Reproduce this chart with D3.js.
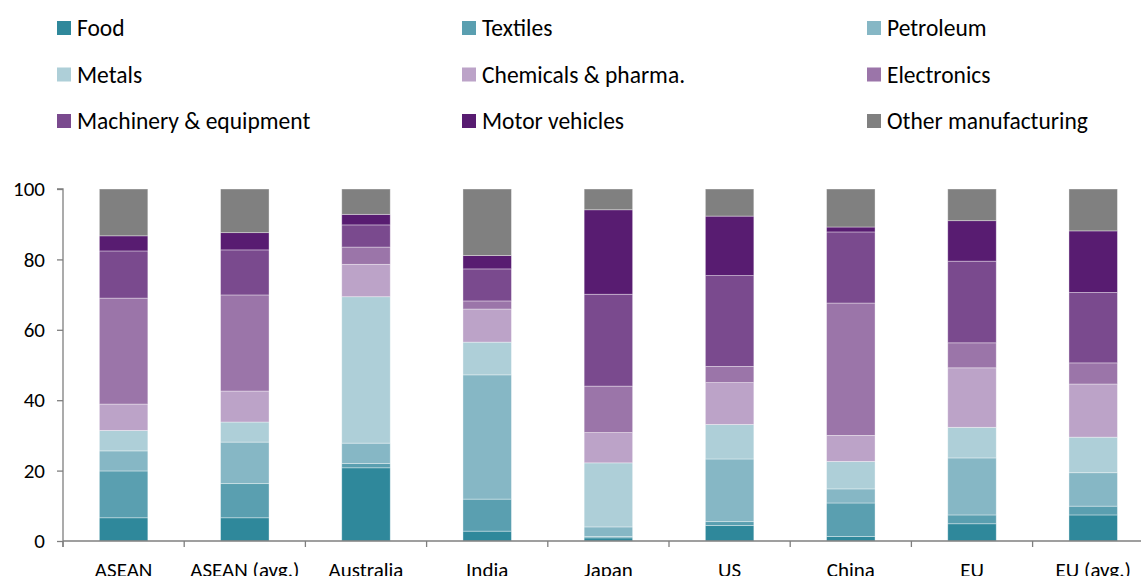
<!DOCTYPE html>
<html>
<head>
<meta charset="utf-8">
<script src="https://cdn.jsdelivr.net/npm/d3@7"></script>
<style>
  html, body { margin: 0; padding: 0; background: #fff; }
  svg { display: block; }
</style>
</head>
<body>
<svg id="chart" width="1141" height="576"></svg>
<script>
// ---- Data ----
const categories = ["ASEAN", "ASEAN (avg.)", "Australia", "India", "Japan", "US", "China", "EU", "EU (avg.)"];
const seriesNames = ["Food", "Textiles", "Petroleum", "Metals", "Chemicals & pharma.", "Electronics", "Machinery & equipment", "Motor vehicles", "Other manufacturing"];
const food        = [6.6, 6.6, 20.8, 2.8, 0.9, 4.4, 1.3, 4.9, 7.4];
const textiles    = [13.3, 9.7, 1.2, 9.1, 0.4, 1.1, 9.5, 2.5, 2.5];
const petroleum   = [5.7, 11.8, 5.8, 35.3, 2.7, 17.8, 4.0, 16.2, 9.5];
const metals      = [5.8, 5.7, 41.6, 9.3, 18.2, 9.8, 7.8, 8.7, 10.1];
const chemicals   = [7.5, 8.8, 9.2, 9.4, 8.6, 11.9, 7.4, 16.9, 15.1];
const electronics = [30.1, 27.3, 4.9, 2.3, 13.2, 4.6, 37.6, 7.1, 6.0];
const machinery   = [13.4, 12.8, 6.3, 9.1, 26.1, 25.8, 20.2, 23.2, 20.0];
const motor       = [4.3, 4.9, 3.0, 3.8, 24.0, 16.9, 1.4, 11.5, 17.5];
const other       = [13.3, 12.4, 7.2, 18.9, 5.9, 7.7, 10.8, 9.0, 11.9];
const yTicks = [0, 20, 40, 60, 80, 100];

const seriesValues = [food, textiles, petroleum, metals, chemicals, electronics, machinery, motor, other];
const colors = ["#2F889B", "#5A9FB0", "#86B7C5", "#AECFD8", "#BCA3C8", "#9B75A9", "#7A4A8E", "#581C71", "#808080"];

// ---- Layout ----
const svg = d3.select("#chart");
const fontFam = "Carlito, Lato, 'Open Sans', sans-serif";
const axisColor = "#7f7f7f";

const x0 = 63, step = 121.2;
const x = d3.scaleBand()
  .domain(categories)
  .range([x0, x0 + step * categories.length])
  .paddingInner(0.6)
  .paddingOuter(0.3);
const y = d3.scaleLinear().domain([0, 100]).range([541, 189]);

// table for stack
const table = categories.map((c, i) => {
  const row = { cat: c };
  seriesNames.forEach((s, j) => row[s] = seriesValues[j][i]);
  return row;
});
const stacked = d3.stack().keys(seriesNames)(table);

const g = svg.append("g");
g.selectAll("g.series")
  .data(stacked)
  .join("g")
  .attr("class", "series")
  .attr("fill", (d, i) => colors[i])
  .selectAll("rect")
  .data(d => d)
  .join("rect")
  .attr("x", d => x(d.data.cat))
  .attr("width", x.bandwidth())
  .attr("y", d => y(d[1]))
  .attr("height", d => y(d[0]) - y(d[1]))
  .attr("stroke", "rgba(255,255,255,0.45)")
  .attr("stroke-width", 0.8);

// ---- Y axis ----
const yAxis = d3.axisLeft(y).tickValues(yTicks).tickSize(6).tickPadding(12);
const yg = svg.append("g").attr("transform", `translate(${x0},0)`).call(yAxis);
yg.select(".domain").attr("d", `M-6,${y(100)}H0V${y(0) + 6}`);
yg.selectAll("line").attr("stroke", axisColor).attr("stroke-width", 1.3);
yg.select(".domain").attr("stroke", axisColor).attr("stroke-width", 1.3);
yg.selectAll("text").attr("font-family", fontFam).attr("font-size", 21).attr("fill", "#000");

// ---- X axis ----
const xAxis = d3.axisBottom(x).tickSize(0).tickPadding(21);
const xg = svg.append("g").attr("transform", `translate(0,${y(0)})`).call(xAxis);
xg.select(".domain").attr("d", `M${x0},0H${x0 + step * categories.length}`)
  .attr("stroke", axisColor).attr("stroke-width", 1.3);
xg.selectAll("text").attr("font-family", fontFam).attr("font-size", 21).attr("fill", "#000");
// boundary ticks between categories
xg.selectAll("line.bound")
  .data(d3.range(categories.length + 1))
  .join("line")
  .attr("class", "bound")
  .attr("x1", i => x0 + i * step).attr("x2", i => x0 + i * step)
  .attr("y1", 0).attr("y2", 6)
  .attr("stroke", axisColor).attr("stroke-width", 1.3);

// ---- Legend ----
const legCols = [57, 462, 867];
const legRows = [28, 74.5, 121];
const leg = svg.append("g");
seriesNames.forEach((s, i) => {
  const cx = legCols[i % 3], cy = legRows[Math.floor(i / 3)];
  leg.append("rect").attr("x", cx).attr("y", cy - 7).attr("width", 14).attr("height", 14).attr("fill", colors[i]);
  leg.append("text").attr("x", cx + 20).attr("y", cy).attr("dy", "0.35em")
    .attr("font-family", fontFam).attr("font-size", 23.5).attr("fill", "#000").text(s);
});
</script>
</body>
</html>
